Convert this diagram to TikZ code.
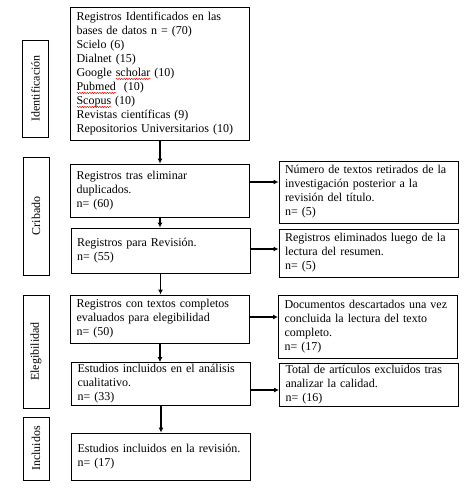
\documentclass[tikz,border=0pt]{standalone}
\usepackage{fontspec}
\setmainfont{Liberation Serif}
\usetikzlibrary{arrows.meta,decorations.pathmorphing}
\newlength\spw
\newcommand{\spellerr}[1]{\leavevmode\setbox0\hbox{#1}\spw=\wd0\rlap{\smash{\tikz[x=1pt,y=1pt,baseline=0pt]{\draw[red,line width=0.45pt,decorate,decoration={zigzag,amplitude=0.7pt,segment length=2.5pt}] (0,-2.5) -- (\spw,-2.5);}}}\box0\relax}
\tikzset{
  box/.style={draw,line width=0.9pt,align=left,inner xsep=6pt,inner ysep=2pt,
    font=\fontsize{12}{14}\selectfont,anchor=center},
  lbox/.style={box,text width=167pt},
  rbox/.style={box,text width=167pt},
  stage/.style={draw,line width=0.9pt,minimum width=26pt,anchor=center},
  stagetext/.style={rotate=90,font=\fontsize{12}{14}\selectfont,inner sep=0pt},
  arr/.style={line width=1.1pt,-{Latex[length=5pt,width=5pt]}}
}
\begin{document}
\begin{tikzpicture}[x=1pt,y=-1pt]
\useasboundingbox (0,0) rectangle (470,493);
% stage labels
\node[stage,minimum height=97pt] (s1) at (35.5,88.5) {};
\node[stagetext] at (s1.center) {Identificación};
\node[stage,minimum height=118pt] (s2) at (36,216) {};
\node[stagetext] at (s2.center) {Cribado};
\node[stage,minimum height=113pt] (s3) at (36,351.5) {};
\node[stagetext] at (s3.center) {Elegibilidad};
\node[stage,minimum height=63pt] (s4) at (36,448.5) {};
\node[stagetext] at (s4.center) {Incluidos};
% main column
\node[lbox,minimum height=133pt] (b1) at (160,73.5) {Registros Identificados en las\\bases de datos n = (70)\\Scielo (6)\\Dialnet (15)\\Google \spellerr{scholar} (10)\\\spellerr{Pubmed}\hspace{8pt}(10)\\\spellerr{Scopus} (10)\\Revistas científicas (9)\\Repositorios Universitarios (10)};
\node[lbox,minimum height=53pt] (b2) at (160,190.5) {Registros tras eliminar\\duplicados.\\n= (60)};
\node[lbox,minimum height=45pt] (b3) at (160.5,250.5) {Registros para Revisión.\\n= (55)};
\node[lbox,minimum height=48pt] (b4) at (160,319) {Registros con textos completos\\evaluados para elegibilidad\\n= (50)};
\node[lbox,minimum height=40pt] (b5) at (161,384) {Estudios incluidos en el análisis\\cualitativo.\\n= (33)};
\node[lbox,minimum height=47pt] (b6) at (161,456.5) {Estudios incluidos en la revisión.\\n= (17)};
% right column
\node[rbox,minimum height=62pt] (r1) at (368.5,192) {Número de textos retirados de la\\investigación posterior a la\\revisión del título.\\n= (5)};
\node[rbox,minimum height=48pt] (r2) at (368.5,253) {Registros eliminados\ luego de la\\lectura del resumen.\\n= (5)};
\node[rbox,minimum height=63pt] (r3) at (368,326.5) {Documentos descartados una vez\\concluida la lectura del texto\\completo.\\n= (17)};
\node[rbox,minimum height=34pt] (r4) at (369,385) {Total de artículos excluidos tras\\analizar\ la calidad.\\n= (16)};
% vertical arrows
\draw[arr] (b1.south) -- (b1.south |- b2.north);
\draw[arr] (b2.south) -- (b2.south |- b3.north);
\draw[arr] (b3.south) -- (b3.south |- b4.north);
\draw[arr] (b4.south) -- (b4.south |- b5.north);
\draw[arr] (b5.south) -- (b5.south |- b6.north);
% horizontal arrows
\draw[arr] ([yshift=8.5pt]b2.east) -- ([yshift=8.5pt]b2.east -| r1.west);
\draw[arr] ([yshift=1.5pt]b3.east) -- ([yshift=1.5pt]b3.east -| r2.west);
\draw[arr] ([yshift=2pt]b4.east) -- ([yshift=2pt]b4.east -| r3.west);
\draw[arr] ([yshift=-6pt]b5.east) -- ([yshift=-6pt]b5.east -| r4.west);
\end{tikzpicture}
\end{document}
